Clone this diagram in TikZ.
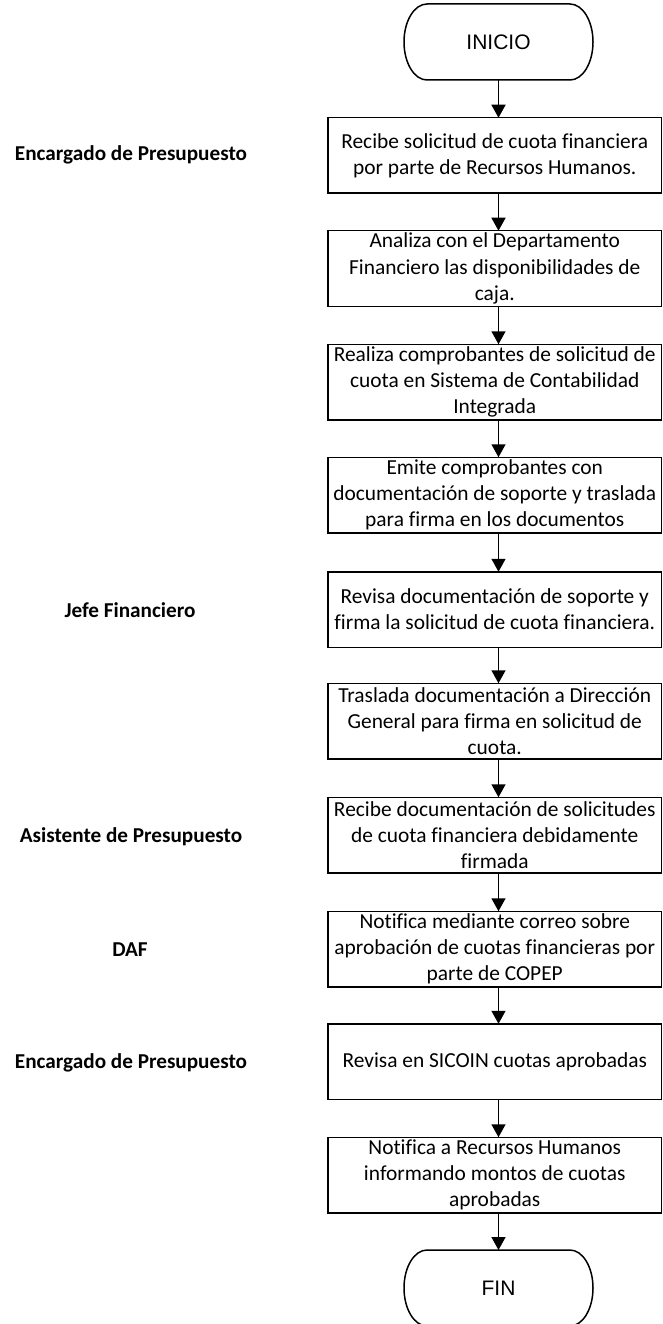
\documentclass[tikz,border=0pt]{standalone}
\usepackage{fontspec}
\setmainfont{Carlito}[Ligatures=NoCommon]
\newfontfamily\termfont{Liberation Sans}
\usetikzlibrary{arrows.meta}
\begin{document}
\begin{tikzpicture}[x=1pt,y=-1pt,
  line/.style={line width=1.5pt},
  arr/.style={line width=1.5pt,-{Triangle[width=14pt,length=13pt]}},
  term/.style={minimum width=189pt,minimum height=76pt,inner sep=0pt,outer sep=0pt,font=\termfont\fontsize{21}{25}\selectfont},
  procbox/.style={draw,line width=1.5pt,minimum width=333.5pt,minimum height=75.5pt,inner sep=0pt,outer sep=0pt,align=center,font=\fontsize{21.4}{26.2}\selectfont},
  role/.style={font=\bfseries\fontsize{21.2}{25}\selectfont,inner sep=0pt}
]
\useasboundingbox (0,0) rectangle (662,1324);

% terminals
\node[term] (inicio) at (498.5,42) {INICIO};
\draw[line] ([xshift=23pt]inicio.north west) -- ([xshift=-23pt]inicio.north east)
  arc[start angle=90,end angle=-90,x radius=23pt,y radius=38pt]
  -- ([xshift=23pt]inicio.south west)
  arc[start angle=270,end angle=90,x radius=23pt,y radius=38pt] -- cycle;

\node[term] (fin) at (498.5,1288) {FIN};
\draw[line] ([xshift=23pt]fin.north west) -- ([xshift=-23pt]fin.north east)
  arc[start angle=90,end angle=-90,x radius=23pt,y radius=38pt]
  -- ([xshift=23pt]fin.south west)
  arc[start angle=270,end angle=90,x radius=23pt,y radius=38pt] -- cycle;

% process boxes
\node[procbox] (b1) at (494.75,155.5) {Recibe solicitud de cuota financiera\\por parte de Recursos Humanos.};
\node[procbox] (b2) at (494.75,268.5) {Analiza con el Departamento\\Financiero las disponibilidades de\\caja.};
\node[procbox] (b3) at (494.75,382) {Realiza comprobantes de solicitud de\\cuota en Sistema de Contabilidad\\Integrada};
\node[procbox] (b4) at (494.75,495) {Emite comprobantes con\\documentación de soporte y traslada\\para firma en los documentos};
\node[procbox] (b5) at (494.75,609.5) {Revisa documentación de soporte y\\firma la solicitud de cuota financiera.};
\node[procbox] (b6) at (494.75,721) {Traslada documentación a Dirección\\General para firma en solicitud de\\cuota.};
\node[procbox] (b7) at (494.75,835) {Recibe documentación de solicitudes\\de cuota financiera debidamente\\firmada};
\node[procbox] (b8) at (494.75,949) {Notifica mediante correo sobre\\aprobación de cuotas financieras por\\parte de COPEP};
\node[procbox] (b9) at (494.75,1061.5) {Revisa en SICOIN cuotas aprobadas};
\node[procbox] (b10) at (494.75,1175) {Notifica a Recursos Humanos\\informando montos de cuotas\\aprobadas};

% role labels
\node[role] (r1) at (131,155) {Encargado de Presupuesto};
\node[role] (r2) at (130,610) {Jefe Financiero};
\node[role] (r3) at (131,837) {Asistente de Presupuesto};
\node[role] (r4) at (130,950) {DAF};
\node[role] (r5) at (131,1063) {Encargado de Presupuesto};

% connectors
\draw[arr] (inicio.south) -- (b1.north -| inicio);
\foreach \a/\b in {b1/b2,b2/b3,b3/b4,b4/b5,b5/b6,b6/b7,b7/b8,b8/b9,b9/b10}{
  \draw[arr] (\a.south -| inicio) -- (\b.north -| inicio);
}
\draw[arr] (b10.south -| inicio) -- (fin.north);
\end{tikzpicture}
\end{document}
